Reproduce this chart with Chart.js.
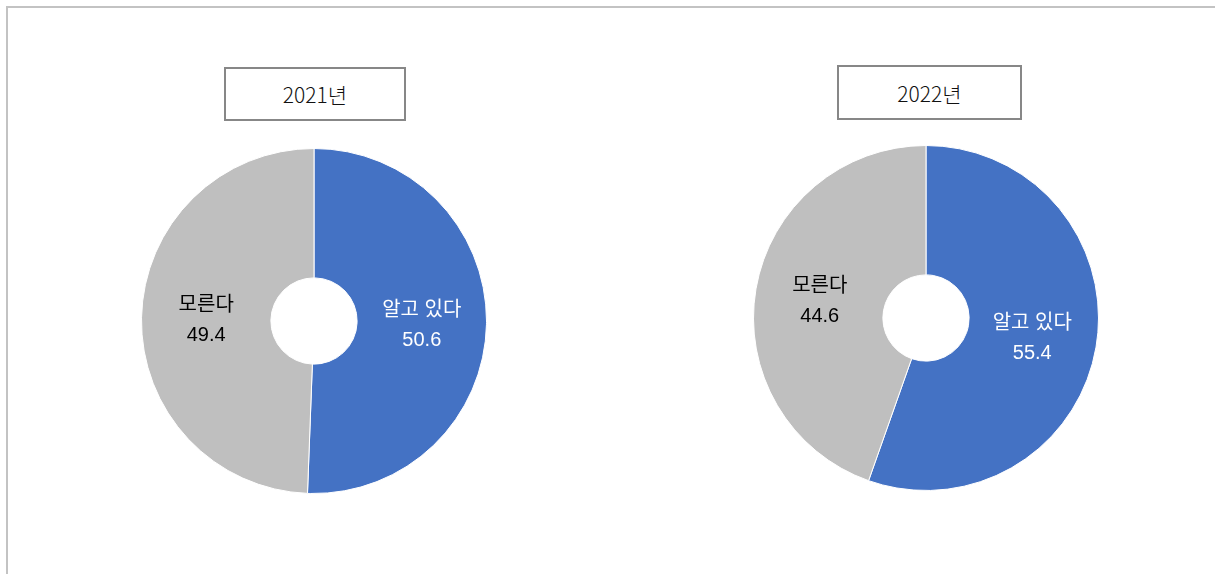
<!DOCTYPE html>
<html>
<head>
<meta charset="utf-8">
<script src="https://cdn.jsdelivr.net/npm/chart.js@4/dist/chart.umd.min.js"></script>
<style>
  html, body { margin: 0; padding: 0; background: #fff; }
  #wrap { position: relative; width: 1215px; height: 574px; overflow: hidden; background: #fff; }
  #frame { position: absolute; left: 6px; top: 6px; width: 1215px; height: 600px;
           border-left: 2px solid #c3c3c3; border-top: 2px solid #c3c3c3; box-sizing: border-box; }
  .tbox { position: absolute; box-sizing: border-box; border: 2px solid #878787; background: #fff;
          display: flex; align-items: center; justify-content: center;
          font-family: "Noto Sans CJK KR", "Open Sans", sans-serif; font-size: 21px; font-weight: 300; color: #111; }
  canvas { position: absolute; }
</style>
</head>
<body>
<div id="wrap">
  <div id="frame"></div>
  <div class="tbox" id="t1" style="left:224px; top:67px; width:182px; height:54px;"></div>
  <div class="tbox" id="t2" style="left:837px; top:65px; width:185px; height:55px;"></div>
  <canvas id="c1" width="346" height="346" style="left:141px; top:148px;"></canvas>
  <canvas id="c2" width="346" height="346" style="left:753px; top:145px;"></canvas>
</div>
<script>
const titles = ["2021년", "2022년"];
const categories = ["알고 있다", "모른다"];
const values2021 = [50.6, 49.4];
const values2022 = [55.4, 44.6];
const sliceColors = ["#4472C4", "#BFBFBF"];
const labelColors = ["#ffffff", "#000000"];

document.getElementById("t1").textContent = titles[0];
document.getElementById("t2").textContent = titles[1];

const labelPlugin = {
  id: "sliceLabels",
  afterDatasetsDraw(chart) {
    const ctx = chart.ctx;
    const meta = chart.getDatasetMeta(0);
    const data = chart.data.datasets[0].data;
    ctx.save();
    ctx.textAlign = "center";
    ctx.textBaseline = "middle";
    ctx.font = '20px "Liberation Sans", "Noto Sans CJK KR", sans-serif';
    meta.data.forEach((arc, i) => {
      const p = arc.tooltipPosition();
      ctx.fillStyle = labelColors[i];
      ctx.fillText(chart.data.labels[i], p.x, p.y - 13);
      ctx.fillText(data[i].toFixed(1), p.x, p.y + 17);
    });
    ctx.restore();
  }
};

function makeChart(id, values) {
  return new Chart(document.getElementById(id), {
    type: "doughnut",
    data: {
      labels: categories,
      datasets: [{
        data: values,
        backgroundColor: sliceColors,
        borderColor: "#ffffff",
        borderWidth: 1
      }]
    },
    options: {
      responsive: false,
      devicePixelRatio: 1,
      animation: false,
      cutout: "25%",
      rotation: 0,
      layout: { padding: 0 },
      plugins: { legend: { display: false }, tooltip: { enabled: false }, title: { display: false } }
    },
    plugins: [labelPlugin]
  });
}

makeChart("c1", values2021);
makeChart("c2", values2022);
</script>
</body>
</html>
